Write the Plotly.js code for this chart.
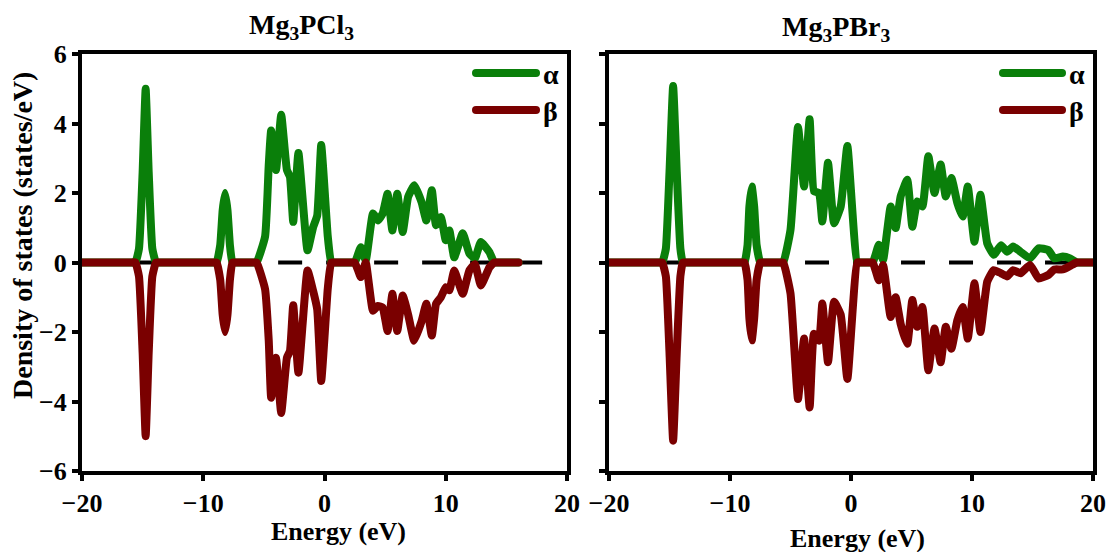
<!DOCTYPE html>
<html>
<head>
<meta charset="utf-8">
<script src="https://cdn.plot.ly/plotly-3.0.1.min.js"></script>
<style>
  html, body { margin: 0; padding: 0; background: #fff; }
  #dos { width: 1108px; height: 552px; }
  /* rounded ends on the spin-resolved DOS curves and legend samples */
  .scatterlayer .trace:nth-child(n+2) .js-line { stroke-linecap: round !important; stroke-linejoin: round !important; }
  .shapelayer path { stroke-linecap: round !important; }
  /* heavy serif tick numbers */
  .xtick text, .ytick text, .x2tick text, .y2tick text {
    font-family: 'Liberation Serif', serif !important;
    font-weight: bold !important;
  }
</style>
</head>
<body>
<div id="dos"></div>
<script>
// ---- Mg3PCl3 : spin-resolved density of states (states/eV) ----
const energyCl = [-20, -16.0, -15.6, -15.3, -15.0, -14.75, -14.5, -14.2, -13.9, -13.6,
  -9.2, -8.9, -8.6, -8.4, -8.2, -8.0, -7.8, -7.6, -7.3,
  -5.9, -5.6, -4.9, -4.6, -4.4, -4.0, -3.57, -3.1, -2.85, -2.58, -2.15, -1.4, -0.95, -0.6, -0.27, 0.27, 0.55, 0.85,
  2.2, 2.5, 3.0, 3.4, 4.0, 4.4, 4.8, 5.2, 5.6, 6.0, 6.45, 6.9, 7.4, 8.0, 8.4, 8.85, 9.2, 9.6, 10.0, 10.3, 10.7,
  11.4, 11.95, 12.4, 12.9, 13.6, 14.0, 14.3, 16.0];
const alphaCl = [0, 0, 0, 0.4, 2.6, 5.0, 2.6, 0.4, 0, 0,
  0, 0, 0.5, 1.5, 2.0, 1.5, 0.5, 0, 0,
  0, 0, 0.75, 2.8, 3.8, 2.66, 4.25, 2.66, 2.47, 1.17, 3.15, 0.35, 1.0, 1.35, 3.38, 0.75, 0, 0,
  0, 0, 0.44, 0.06, 1.41, 1.21, 1.41, 1.98, 0.92, 1.98, 0.88, 1.89, 2.22, 1.74, 1.21, 2.08, 1.07, 1.31, 0.64, 0.92, 0.15,
  0.84, 0.26, 0.12, 0.59, 0.3, 0, 0, 0];
const betaCl = [0, 0, 0, -0.4, -2.6, -5.0, -2.6, -0.4, 0, 0,
  0, 0, -0.5, -1.5, -2.0, -1.5, -0.5, 0, 0,
  0, 0, -0.77, -2.24, -3.89, -2.74, -4.33, -2.74, -2.55, -1.23, -3.17, -0.23, -0.8, -1.35, -3.41, -0.75, 0, 0,
  0, 0, -0.42, 0, -1.39, -1.25, -1.3, -1.97, -0.9, -1.97, -0.95, -1.5, -2.25, -1.7, -1.19, -2.1, -1.19, -1.0, -0.71, -0.8, -0.23,
  -0.9, -0.23, -0.05, -0.66, -0.14, 0, 0, 0];

// ---- Mg3PBr3 ----
const energyBr = [-20, -15.9, -15.6, -15.3, -15.0, -14.7, -14.4, -14.1, -13.9, -13.6,
  -9.1, -8.8, -8.55, -8.4, -8.2, -8.0, -7.8, -7.5, -7.2,
  -5.9, -5.6, -5.0, -4.38, -3.88, -3.42, -3.06, -2.64, -2.37, -1.9, -1.4, -0.85, -0.3, 0.52, 0.82,
  1.5, 1.8, 2.3, 2.65, 3.28, 3.69, 4.1, 4.65, 5.07, 5.48, 5.9, 6.39, 6.9, 7.41, 7.83, 8.3, 8.79, 9.23, 9.65,
  10.2, 10.7, 11.26, 11.8, 12.4, 12.9, 13.4, 14.0, 14.8, 15.5, 16.3, 16.8, 17.5, 18.1, 18.65, 18.95, 20];
const alphaBr = [0, 0, 0, 0.4, 2.6, 5.08, 2.6, 0.4, 0, 0,
  0, 0, 0.5, 1.6, 2.19, 1.6, 0.5, 0, 0,
  0, 0, 0.94, 3.9, 2.19, 4.12, 2.05, 2.0, 1.18, 2.87, 1.13, 1.61, 3.35, 0, 0,
  0, 0, 0.51, 0.07, 1.61, 0.99, 1.9, 2.38, 1.03, 1.76, 1.61, 3.06, 2.0, 2.82, 1.9, 2.43, 1.71, 1.32, 2.19,
  0.6, 1.95, 0.55, 0.22, 0.5, 0.31, 0.46, 0.31, 0.12, 0.41, 0.36, 0.12, 0.17, 0.12, 0, 0, 0];
const betaBr = [0, 0, 0, -0.4, -2.6, -5.13, -2.6, -0.4, 0, 0,
  0, 0, -0.5, -1.6, -2.24, -1.6, -0.5, 0, 0,
  0, 0, -0.89, -3.93, -2.19, -4.17, -2.05, -2.25, -1.18, -2.87, -1.13, -1.5, -3.35, 0, 0,
  0, 0, -0.51, -0.07, -1.57, -1.0, -1.76, -2.34, -1.08, -1.85, -1.28, -3.1, -1.9, -2.87, -1.85, -2.48, -1.66, -1.28, -2.19,
  -0.6, -2.0, -0.55, -0.22, -0.31, -0.4, -0.22, -0.31, -0.07, -0.46, -0.36, -0.2, -0.2, -0.1, 0, 0, 0];

// Fermi level reference (dashed)
const fermiEnergy = [-15.7, 18.2];
const fermiLevel = [0, 0];

const panelTitles = ['Mg<sub>3</sub>PCl<sub>3</sub>', 'Mg<sub>3</sub>PBr<sub>3</sub>'];
const spinLabels = ['α', 'β'];
const xTicks = [-20, -10, 0, 10, 20];
const yTicks = [-6, -4, -2, 0, 2, 4, 6];

const GREEN = '#0a7f0a';
const RED = '#7a0000';
const SERIF = 'Liberation Serif';

function curve(xa, ya, energy, values, name, color) {
  return { x: energy, y: values, xaxis: xa, yaxis: ya, mode: 'lines', name: name,
    line: { color: color, width: 8, shape: 'spline', smoothing: 0.4 } };
}

function panel(xa, ya, energy, alpha, beta) {
  return [
    { x: fermiEnergy, y: fermiLevel, xaxis: xa, yaxis: ya, mode: 'lines',
      line: { color: '#000', width: 4, dash: '24px,24px' }, hoverinfo: 'skip' },
    curve(xa, ya, energy, alpha, spinLabels[0], GREEN),
    curve(xa, ya, energy, beta, spinLabels[1], RED)
  ];
}

const data = [].concat(
  panel('x', 'y', energyCl, alphaCl, betaCl),
  panel('x2', 'y2', energyBr, alphaBr, betaBr)
);

const W = 1108, H = 552;
const px = v => v / W;
const py = v => (H - v) / H;

const tickFont = { family: SERIF, size: 26, color: '#000', weight: 'bold' };
function xAxis(domain, anchor) {
  return { domain: domain, anchor: anchor, range: [-20, 20], tickvals: xTicks,
    showline: true, linewidth: 4, linecolor: '#000', mirror: true,
    ticks: 'outside', ticklen: 6, tickwidth: 4, tickcolor: '#000',
    showgrid: false, zeroline: false, tickfont: tickFont, fixedrange: true };
}
function yAxis(anchor, labels) {
  return { domain: [py(471), py(54)], anchor: anchor, range: [-6, 6], tickvals: yTicks,
    showline: true, linewidth: 4, linecolor: '#000', mirror: true,
    ticks: 'outside', ticklen: 6, tickwidth: 4, tickcolor: '#000',
    showticklabels: labels, showgrid: false, zeroline: false, tickfont: tickFont, fixedrange: true };
}

// legend samples drawn per panel
const legendRows = [
  { y: 73, color: GREEN, label: spinLabels[0] },
  { y: 110, color: RED, label: spinLabels[1] }
];
const legendSpans = [[476, 536], [1003, 1062]];
const shapes = [];
const legendAnn = [];
legendSpans.forEach(s => {
  legendRows.forEach(r => {
    shapes.push({ type: 'line', xref: 'paper', yref: 'paper',
      x0: px(s[0]), x1: px(s[1]), y0: py(r.y), y1: py(r.y),
      line: { color: r.color, width: 8 } });
    legendAnn.push({ xref: 'paper', yref: 'paper', x: px(s[1] + 5), y: py(r.y + 1),
      xanchor: 'left', yanchor: 'middle', showarrow: false, text: r.label,
      font: { family: SERIF, size: 28, color: '#000', weight: 'bold' } });
  });
});

const labelFont = { family: SERIF, size: 26, color: '#000', weight: 'bold' };
const yLabelFont = { family: SERIF, size: 28, color: '#000', weight: 'bold' };
const titleFont = { family: SERIF, size: 28, color: '#000', weight: 'bold' };
function note(x, y, text, font, extra) {
  return Object.assign({ xref: 'paper', yref: 'paper', x: px(x), y: py(y),
    xanchor: 'center', yanchor: 'middle', showarrow: false, text: text, font: font }, extra || {});
}
const annotations = legendAnn.concat([
  note(301, 27, panelTitles[0], titleFont),
  note(836, 28, panelTitles[1], titleFont),
  note(338, 531, 'Energy (eV)', labelFont),
  note(857, 538, 'Energy (eV)', labelFont),
  note(22, 236, 'Density of states (states/eV)', yLabelFont, { textangle: -90 })
]);

const layout = {
  width: W, height: H,
  margin: { l: 0, r: 0, t: 0, b: 0 },
  paper_bgcolor: '#fff', plot_bgcolor: '#fff',
  showlegend: false,
  xaxis: xAxis([px(82), px(567)], 'y'),
  yaxis: yAxis('x', true),
  xaxis2: xAxis([px(609), px(1093)], 'y2'),
  yaxis2: yAxis('x2', false),
  shapes: shapes,
  annotations: annotations
};

Plotly.newPlot('dos', data, layout, { displayModeBar: false, staticPlot: true });
</script>
</body>
</html>
